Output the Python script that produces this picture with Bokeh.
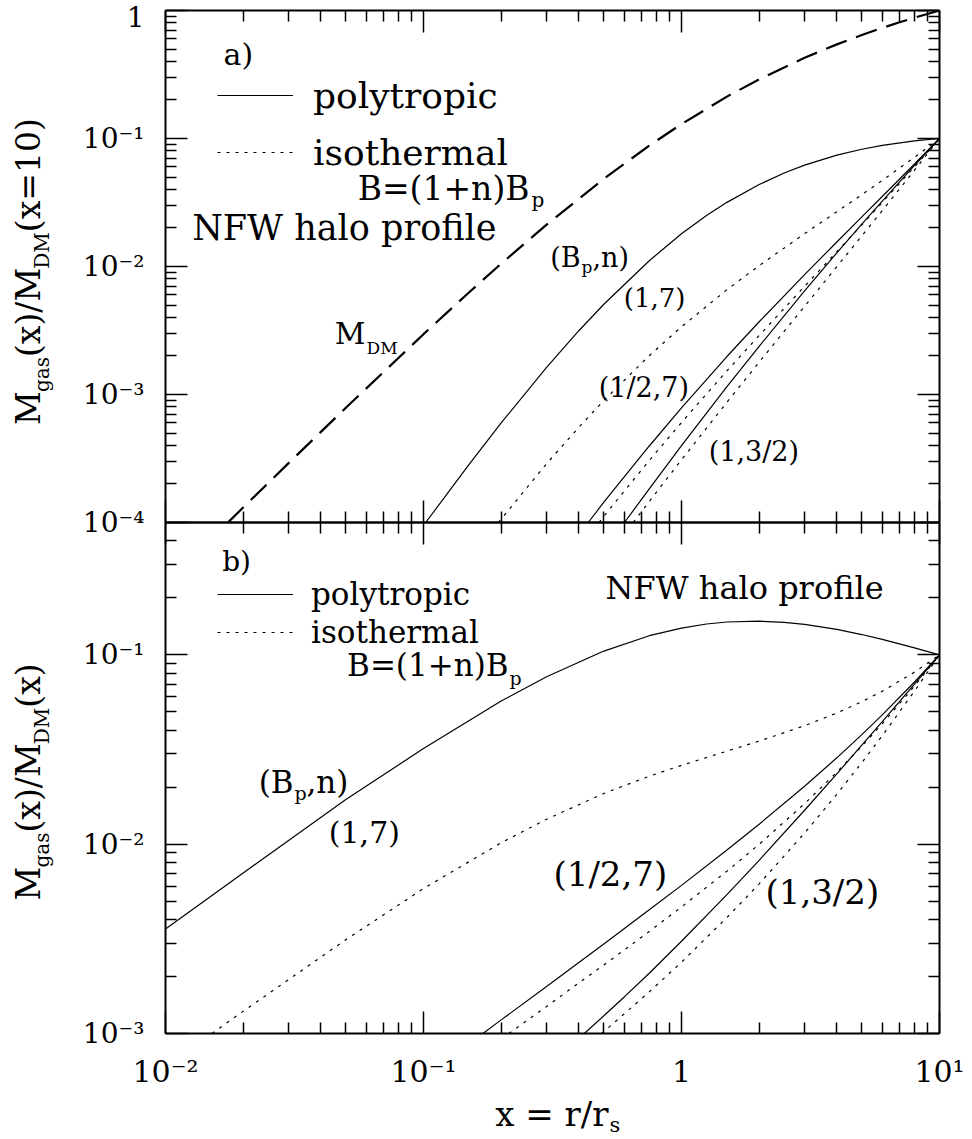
import math
from bokeh.plotting import figure
from bokeh.models import LogAxis, LogScale, FixedTicker, Label, Legend, LegendItem, Range1d
from bokeh.embed import file_html
from bokeh.resources import INLINE

FONT = "DejaVu Serif"

# ---------------- data ----------------
# panel a) : M_gas(x) / M_DM(x=10)
a_dm_x = [0.01746, 0.02, 0.03, 0.05, 0.1, 0.15, 0.2, 0.3, 0.5, 0.75, 1.0, 1.5, 2.0, 3.0, 4.0, 5.0, 6.0, 7.0, 8.0, 10.0]
a_dm_y = [1.0e-4, 1.31e-4, 2.91e-4, 7.87e-4, 2.96e-3, 6.27e-3, 0.01052, 0.02122, 0.04845, 0.0880, 0.1297,
          0.2125, 0.2901, 0.4274, 0.5437, 0.6438, 0.7313, 0.809, 0.8788, 1.0]

a_poly17_x = [0.102, 0.15, 0.2, 0.3, 0.4, 0.5, 0.75, 1.0, 1.25, 1.5, 2.0, 2.5, 3.0, 4.0, 5.0, 6.0, 8.0, 10.0]
a_poly17_y = [1.0e-4, 2.83e-4, 5.99e-4, 1.63e-3, 3.15e-3, 5.07e-3, 0.0111, 0.0180, 0.0250, 0.0317, 0.0437,
              0.0537, 0.0619, 0.0741, 0.0824, 0.0883, 0.0957, 0.1]

a_iso17_x = [0.195, 0.3, 0.4, 0.5, 0.75, 1.0, 1.5, 2.0, 3.0, 4.0, 5.0, 6.0, 8.0, 10.0]
a_iso17_y = [1.0e-4, 2.88e-4, 5.55e-4, 8.98e-4, 2.01e-3, 3.38e-3, 6.59e-3, 0.01016, 0.01805, 0.0268, 0.0364,
             0.0470, 0.0712, 0.1]

a_poly127_x = [0.435, 0.5, 0.75, 1.0, 1.5, 2.0, 3.0, 4.0, 5.0, 6.0, 8.0, 10.0]
a_poly127_y = [1.0e-4, 1.44e-4, 3.96e-4, 7.86e-4, 1.98e-3, 3.70e-3, 8.64e-3, 0.01554, 0.02439, 0.03523, 0.06317, 0.1]

a_iso127_x = [0.479, 0.5, 0.75, 1.0, 1.5, 2.0, 3.0, 4.0, 5.0, 6.0, 8.0, 10.0]
a_iso127_y = [1.0e-4, 1.12e-4, 3.05e-4, 6.04e-4, 1.53e-3, 2.89e-3, 7.00e-3, 0.01304, 0.02119, 0.03163, 0.06011, 0.1]

a_poly132_x = [0.601, 0.75, 1.0, 1.5, 2.0, 3.0, 4.0, 5.0, 6.0, 8.0, 10.0]
a_poly132_y = [1.0e-4, 1.83e-4, 3.98e-4, 1.15e-3, 2.38e-3, 6.46e-3, 0.01279, 0.02145, 0.03246, 0.06156, 0.1]

a_iso132_x = [0.65, 0.75, 1.0, 1.5, 2.0, 3.0, 4.0, 5.0, 6.0, 8.0, 10.0]
a_iso132_y = [1.0e-4, 1.46e-4, 3.09e-4, 8.70e-4, 1.79e-3, 4.89e-3, 9.97e-3, 0.01735, 0.02736, 0.05654, 0.1]

# panel b) : M_gas(x) / M_DM(x)
b_poly17_x = [0.01, 0.02, 0.05, 0.1, 0.2, 0.3, 0.5, 0.75, 1.0, 1.25, 1.5, 2.0, 2.5, 3.0, 4.0, 5.0, 6.0, 8.0, 10.0]
b_poly17_y = [3.56e-3, 7.04e-3, 0.0172, 0.0320, 0.0570, 0.0766, 0.1047, 0.1262, 0.1385, 0.1455, 0.1491, 0.1506,
              0.1485, 0.1448, 0.1363, 0.1280, 0.1207, 0.1089, 0.1]

b_iso17_x = [0.01514, 0.02, 0.05, 0.1, 0.2, 0.3, 0.5, 0.75, 1.0, 1.5, 2.0, 3.0, 4.0, 5.0, 6.0, 8.0, 10.0]
b_iso17_y = [1.0e-3, 1.31e-3, 3.13e-3, 5.83e-3, 0.01017, 0.01355, 0.01853, 0.02285, 0.02608, 0.0310, 0.03503,
             0.04223, 0.04929, 0.05657, 0.06424, 0.08103, 0.1]

b_poly127_x = [0.17, 0.2, 0.3, 0.4, 0.5, 0.75, 1.0, 1.5, 2.0, 3.0, 4.0, 5.0, 6.0, 8.0, 10.0]
b_poly127_y = [1.0e-3, 1.18e-3, 1.77e-3, 2.37e-3, 2.97e-3, 4.50e-3, 6.06e-3, 9.31e-3, 0.01275, 0.02022, 0.02858,
               0.03788, 0.04817, 0.07188, 0.1]

b_iso127_x = [0.2143, 0.3, 0.4, 0.5, 0.75, 1.0, 1.5, 2.0, 3.0, 4.0, 5.0, 6.0, 8.0, 10.0]
b_iso127_y = [1.0e-3, 1.39e-3, 1.85e-3, 2.30e-3, 3.46e-3, 4.66e-3, 7.20e-3, 9.98e-3, 0.01637, 0.02399, 0.03292,
              0.04325, 0.0684, 0.1]

b_poly132_x = [0.42, 0.5, 0.6, 0.75, 1.0, 1.5, 2.0, 3.0, 4.0, 5.0, 6.0, 8.0, 10.0]
b_poly132_y = [1.0e-3, 1.24e-3, 1.56e-3, 2.08e-3, 3.07e-3, 5.41e-3, 8.22e-3, 0.01511, 0.02352, 0.03332, 0.04439,
               0.07005, 0.1]

b_iso132_x = [0.49, 0.6, 0.75, 1.0, 1.5, 2.0, 3.0, 4.0, 5.0, 6.0, 8.0, 10.0]
b_iso132_y = [1.0e-3, 1.27e-3, 1.66e-3, 2.38e-3, 4.10e-3, 6.17e-3, 0.01145, 0.01834, 0.02696, 0.03742, 0.06434, 0.1]

# tick labels
a_ylabels = {1.0: "1", 0.1: "10⁻¹", 0.01: "10⁻²", 0.001: "10⁻³", 0.0001: "10⁻⁴"}
b_ylabels = {0.1: "10⁻¹", 0.01: "10⁻²", 0.001: "10⁻³"}
x_labels = {0.01: "10⁻²", 0.1: "10⁻¹", 1.0: "1", 10.0: "10¹"}

# ---------------- geometry (page pixels) ----------------
W, H = 969, 1139               # canvas = frame
LEFT, RIGHT = 165, 939         # plot box left/right
TOP, MID, BOT = 10, 522, 1033  # plot box top, panel split, bottom
PX_DEC_X = (RIGHT - LEFT) / 3.0
PX_DEC_A = (MID - TOP) / 4.0
B_DEC = math.log10(0.5 / 1e-3)
PX_DEC_B = (BOT - MID) / B_DEC


def xd(px):
    return 10 ** ((px - LEFT) / PX_DEC_X - 2.0)


def ya(py):
    return 10 ** (-(py - TOP) / PX_DEC_A)


def yb(py):
    return 10 ** (-3.0 + (BOT - py) / PX_DEC_B)


X_MAJ = [0.01, 0.1, 1.0, 10.0]
X_MIN = [k * 10.0 ** e for e in (-2, -1, 0) for k in range(2, 10)]
A_MAJ = [1e-4, 1e-3, 1e-2, 1e-1, 1.0]
A_MIN = [k * 10.0 ** e for e in (-4, -3, -2, -1) for k in range(2, 10)]
B_MAJ = [1e-3, 1e-2, 1e-1]
B_MIN = [k * 10.0 ** e for e in (-3, -2) for k in range(2, 10)] + [0.2, 0.3, 0.4]

SOLID = dict(line_color="black", line_width=1.2)
DOTTED = dict(line_color="black", line_width=1.2, line_dash="3 6")
DASHED = dict(line_color="black", line_width=2.2, line_dash="22 10")

p = figure(x_axis_type="log", y_axis_type="log",
           x_range=Range1d(xd(0), xd(W)), y_range=Range1d(yb(H), yb(0)),
           frame_width=W, frame_height=H,
           min_border_left=0, min_border_right=0, min_border_top=0, min_border_bottom=0,
           x_axis_location=None, y_axis_location=None,
           output_backend="svg", toolbar_location=None)
p.extra_y_ranges = {"a": Range1d(ya(H), ya(0))}
p.extra_y_scales = {"a": LogScale()}
p.grid.visible = False
p.outline_line_color = None
p.background_fill_color = "white"
p.border_fill_color = "white"


def add_axis(side, majors, minors, fixed, bounds, rng="default", labels=None, size="28px", standoff=20):
    ax = LogAxis(ticker=FixedTicker(ticks=majors, minor_ticks=minors), y_range_name=rng)
    ax.fixed_location = fixed
    ax.bounds = bounds
    ax.axis_line_color = "black"
    ax.axis_line_width = 2
    ax.major_tick_in = 22
    ax.major_tick_out = 0
    ax.minor_tick_in = 11
    ax.minor_tick_out = 0
    ax.major_tick_line_color = "black"
    ax.minor_tick_line_color = "black"
    ax.major_tick_line_width = 1.5
    ax.minor_tick_line_width = 1.5
    if labels is not None:
        ax.major_label_overrides = labels
        ax.major_label_text_font = FONT
        ax.major_label_text_font_size = size
        ax.major_label_text_color = "black"
        ax.major_label_standoff = standoff
    else:
        ax.major_label_overrides = {t: "" for t in majors}
        ax.major_label_text_font_size = "0px"
        ax.major_label_standoff = 0
    p.add_layout(ax, side)


XB = (0.01, 10.0)
# panel b axes (default range)
add_axis("left", B_MAJ, B_MIN, 0.01, (1e-3, 0.5), labels=b_ylabels, size="28px", standoff=21)
add_axis("below", X_MAJ, X_MIN, 1e-3, XB, labels=x_labels, size="30px", standoff=20)
add_axis("right", B_MAJ, B_MIN, 10.0, (1e-3, 0.5))
add_axis("above", X_MAJ, X_MIN, 0.5, XB)
# panel a axes (range "a")
add_axis("left", A_MAJ, A_MIN, 0.01, (1e-4, 1.0), rng="a", labels=a_ylabels, size="28px", standoff=21)
add_axis("right", A_MAJ, A_MIN, 10.0, (1e-4, 1.0), rng="a")
add_axis("above", X_MAJ, X_MIN, 1.0, XB, rng="a")
add_axis("below", X_MAJ, X_MIN, 1e-4, XB, rng="a")

# ---------------- curves ----------------
A = dict(y_range_name="a")
p.line(a_dm_x, a_dm_y, **DASHED, **A)
ra_p = p.line(a_poly17_x, a_poly17_y, **SOLID, **A)
ra_i = p.line(a_iso17_x, a_iso17_y, **DOTTED, **A)
p.line(a_poly127_x, a_poly127_y, **SOLID, **A)
p.line(a_iso127_x, a_iso127_y, **DOTTED, **A)
p.line(a_poly132_x, a_poly132_y, **SOLID, **A)
p.line(a_iso132_x, a_iso132_y, **DOTTED, **A)

rb_p = p.line(b_poly17_x, b_poly17_y, **SOLID)
rb_i = p.line(b_iso17_x, b_iso17_y, **DOTTED)
p.line(b_poly127_x, b_poly127_y, **SOLID)
p.line(b_iso127_x, b_iso127_y, **DOTTED)
p.line(b_poly132_x, b_poly132_y, **SOLID)
p.line(b_iso132_x, b_iso132_y, **DOTTED)

# ---------------- legends ----------------
common = dict(orientation="vertical", glyph_width=76, padding=0, margin=0,
              border_line_color=None, background_fill_alpha=0,
              label_text_font=FONT, label_text_color="black", label_text_baseline="alphabetic")
leg_a = Legend(items=[LegendItem(label="polytropic", renderers=[ra_p]),
                      LegendItem(label="isothermal", renderers=[ra_i])],
               location=(217, H - 174), glyph_height=44, label_height=44, spacing=13,
               label_standoff=20, label_text_font_size="36px", **common)
leg_b = Legend(items=[LegendItem(label="polytropic", renderers=[rb_p]),
                      LegendItem(label="isothermal", renderers=[rb_i])],
               location=(217, H - 651), glyph_height=38, label_height=38, spacing=0,
               label_standoff=18, label_text_font_size="31px", **common)
p.add_layout(leg_a)
p.add_layout(leg_b)

# ---------------- texts ----------------
K = 0.35   # baseline correction (fraction of font size)


def txt(px, py, panel, text, size, align="left", rotated=False):
    if rotated:
        x, yy = xd(px - K * size), py
        ang = math.pi / 2
    else:
        x, yy = xd(px), py - K * size
        ang = 0.0
    y = ya(yy) if panel == "a" else yb(yy)
    p.add_layout(Label(x=x, y=y, y_range_name=("a" if panel == "a" else "default"),
                       text=text, angle=ang, text_font=FONT, text_font_size=f"{size}px",
                       text_align=align, text_baseline="alphabetic", text_color="black"))


# panel a
txt(223, 64, "a", "a)", 30)
txt(529, 200, "a", "B=(1+n)B", 33, align="right")
txt(531, 206, "a", "p", 20)
txt(191.7, 240, "a", "NFW halo profile", 35)
txt(365, 343.3, "a", "M", 30, align="right")
txt(366, 353.3, "a", "DM", 17)
txt(580, 266.7, "a", "(B", 27, align="right")
txt(581, 272, "a", "p", 17)
txt(592, 266.7, "a", ",n)", 27)
txt(623.3, 306.7, "a", "(1,7)", 26)
txt(598.3, 396.7, "a", "(1/2,7)", 27)
txt(708.3, 460, "a", "(1,3/2)", 27)

# panel b
txt(221.7, 570.3, "b", "b)", 28)
txt(508, 675.3, "b", "B=(1+n)B", 31, align="right")
txt(509, 683.7, "b", "p", 19)
txt(605, 598.7, "b", "NFW halo profile", 32)
txt(293, 792, "b", "(B", 31, align="right")
txt(294, 798.7, "b", "p", 19)
txt(306, 792, "b", ",n)", 31)
txt(328.3, 842, "b", "(1,7)", 30)
txt(553, 885.3, "b", "(1/2,7)", 34)
txt(765, 903.7, "b", "(1,3/2)", 34)

# x axis title
txt(608, 1125, "b", "x = r/r", 34, align="right")
txt(609, 1132, "b", "s", 21)

# rotated y titles
txt(40, 424.5, "a", "M", 33, rotated=True)
txt(48, 391.5, "a", "gas", 20, rotated=True)
txt(40, 356.5, "a", "(x)/M", 33, rotated=True)
txt(48, 268.2, "a", "DM", 20, rotated=True)
txt(40, 231.7, "a", "(x=10)", 33, rotated=True)

txt(40, 900, "b", "M", 33, rotated=True)
txt(48, 867, "b", "gas", 20, rotated=True)
txt(40, 832, "b", "(x)/M", 33, rotated=True)
txt(48, 743.7, "b", "DM", 20, rotated=True)
txt(40, 707.2, "b", "(x)", 33, rotated=True)

open("out.html", "w").write(file_html(p, INLINE))
